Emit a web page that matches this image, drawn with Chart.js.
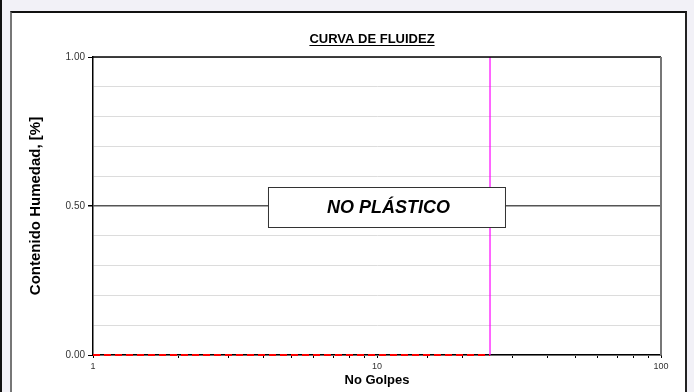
<!DOCTYPE html>
<html>
<head>
<meta charset="utf-8">
<script src="https://cdn.jsdelivr.net/npm/chart.js@4/dist/chart.umd.min.js"></script>
<style>
  html, body { margin: 0; padding: 0; }
  body { width: 694px; height: 392px; position: relative; overflow: hidden; background: #f2f1f7; }
  #edge { position: absolute; left: 0; top: 0; width: 2px; height: 392px; background: #111; }
  #frame { position: absolute; left: 10px; top: 11px; width: 673px; height: 400px; background: #fff;
           border-top: 2px solid #111; border-left: 2px solid #777; border-right: 2px solid #222; }
  #wrap { position: absolute; left: 0; top: 0; width: 694px; height: 392px; }
</style>
</head>
<body>
<div id="edge"></div>
<div id="frame"></div>
<div id="wrap"><canvas id="c" width="694" height="392"></canvas></div>
<script>
// ---- data ----
const titulo = "CURVA DE FLUIDEZ";
const tituloY = "Contenido Humedad, [%]";
const tituloX = "No Golpes";
const etiqueta = "NO PLÁSTICO";
const xTickLabels = [1, 10, 100];
const yTickLabels = [0, 0.5, 1];
const curvaGolpes = [1, 25];
const curvaHumedad = [0, 0];
const limiteGolpes = [25, 25];
const limiteHumedad = [0, 1];

const isLabeledY = v => yTickLabels.some(t => Math.abs(t - v) < 1e-9);
const FONT = '"Liberation Sans", Arial, sans-serif';

const framePlugin = {
  id: 'framePlugin',
  afterDraw(chart) {
    const { ctx, chartArea: a } = chart;
    ctx.save();
    // top and right borders of plot
    ctx.strokeStyle = '#000'; ctx.lineWidth = 1.5;
    ctx.beginPath(); ctx.moveTo(a.left, a.top); ctx.lineTo(a.right, a.top); ctx.stroke();
    ctx.strokeStyle = '#777'; ctx.lineWidth = 2;
    ctx.beginPath(); ctx.moveTo(a.right, a.top); ctx.lineTo(a.right, a.bottom); ctx.stroke();
    // title underlined
    ctx.font = 'bold 13px ' + FONT;
    ctx.fillStyle = '#000'; ctx.textAlign = 'center'; ctx.textBaseline = 'alphabetic';
    const cx = (a.left + a.right) / 2 - 5;
    const ty = a.top - 14;
    ctx.fillText(titulo, cx, ty);
    const w = ctx.measureText(titulo).width;
    ctx.lineWidth = 1.2; ctx.strokeStyle = '#000';
    ctx.beginPath(); ctx.moveTo(cx - w / 2, ty + 2.5); ctx.lineTo(cx + w / 2, ty + 2.5); ctx.stroke();
    // label box
    const y = chart.scales.y.getPixelForValue(0.5);
    const bx = a.left + (a.right - a.left) * 0.5167;
    const bw = 237, bh = 40;
    ctx.fillStyle = '#fff'; ctx.strokeStyle = '#333'; ctx.lineWidth = 1;
    ctx.fillRect(bx - bw / 2, y - bh / 2 + 1, bw, bh);
    ctx.strokeRect(bx - bw / 2 + 0.5, y - bh / 2 + 1.5, bw, bh);
    ctx.font = 'italic bold 18px ' + FONT;
    ctx.fillStyle = '#000'; ctx.textBaseline = 'middle';
    ctx.fillText(etiqueta, bx + 2, y + 2);
    ctx.restore();
  }
};

new Chart(document.getElementById('c'), {
  type: 'scatter',
  data: {
    datasets: [
      {
        data: limiteGolpes.map((x, i) => ({ x, y: limiteHumedad[i] })),
        showLine: true, borderColor: '#ff00ff', borderWidth: 1.2, pointRadius: 0, clip: false
      },
      {
        data: curvaGolpes.map((x, i) => ({ x, y: curvaHumedad[i] })),
        showLine: true, borderColor: '#ff0000', borderWidth: 2, borderDash: [7, 4], pointRadius: 0, clip: false
      }
    ]
  },
  options: {
    responsive: false, animation: false,
    layout: { padding: { left: 0, right: 33, top: 57, bottom: 0 } },
    plugins: { legend: { display: false }, tooltip: { enabled: false }, title: { display: false } },
    scales: {
      x: {
        type: 'logarithmic', min: 1, max: 100,
        afterFit: s => { s.height = 37; },
        border: { color: '#000', width: 1.5 },
        grid: { drawOnChartArea: false, tickLength: 3, tickColor: '#000', lineWidth: 1 },
        ticks: {
          autoSkip: false, maxRotation: 0, padding: 3, color: '#333',
          font: { size: 9, family: FONT },
          callback: v => xTickLabels.includes(v) ? String(v) : ''
        },
        title: {
          display: true, text: tituloX, color: '#000', padding: { top: 0, bottom: 4 },
          font: { size: 13, weight: 'bold', family: FONT }
        }
      },
      y: {
        min: 0, max: 1,
        afterFit: s => { s.width = 93; },
        border: { color: '#000', width: 1.5 },
        grid: {
          color: c => Math.abs(c.tick.value - 0.5) < 1e-9 ? '#555' : '#dcdcdc',
          lineWidth: c => Math.abs(c.tick.value - 0.5) < 1e-9 ? 1.5 : 1,
          tickLength: 5,
          tickColor: c => isLabeledY(c.tick.value) ? '#000' : 'rgba(0,0,0,0)'
        },
        ticks: {
          stepSize: 0.1, autoSkip: false, padding: 3, color: '#333',
          font: { size: 10, family: FONT },
          callback: v => isLabeledY(v) ? v.toFixed(2) : ''
        },
        title: {
          display: true, text: tituloY, color: '#000', padding: { top: 27, bottom: 0 },
          font: { size: 15, weight: 'bold', family: FONT }
        }
      }
    }
  },
  plugins: [framePlugin]
});
</script>
</body>
</html>
